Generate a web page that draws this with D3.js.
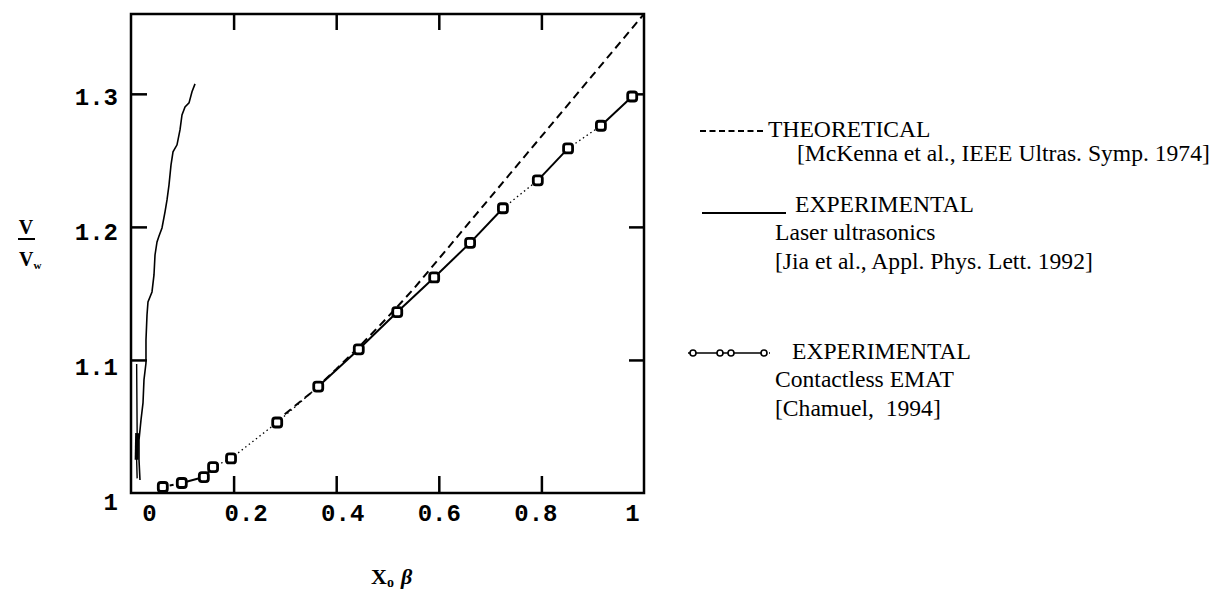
<!DOCTYPE html>
<html>
<head>
<meta charset="utf-8">
<script src="https://cdn.jsdelivr.net/npm/d3@7"></script>
<style>
  body { margin: 0; background: #fff; }
  .tick text { font-family: "Liberation Mono", monospace; font-weight: bold; }
  text { white-space: pre; }
</style>
</head>
<body>
<svg id="chart"></svg>
<script>
// tick values
const xTicks = [0, 0.2, 0.4, 0.6, 0.8, 1];
const yTicks = [1, 1.1, 1.2, 1.3];

// theoretical curve (McKenna 1974)
const theoryX = [0.28, 0.35, 0.40, 0.45, 0.50, 0.55, 0.60, 0.70, 0.80, 0.90, 1.00];
const theoryY = [1.053, 1.075, 1.093, 1.112, 1.132, 1.153, 1.176, 1.222, 1.268, 1.314, 1.36];

// laser ultrasonics trace (Jia 1992)
const laserX = [0.1248, 0.1189, 0.1131, 0.1053, 0.0994, 0.0955, 0.0897, 0.0819, 0.0780, 0.0741,
                0.0702, 0.0663, 0.0604, 0.0546, 0.0507, 0.0468, 0.0448, 0.0409, 0.0331, 0.0312,
                0.0292, 0.0292, 0.0253, 0.0234, 0.0195, 0.0156, 0.0156, 0.0175];
const laserY = [1.3075, 1.3015, 1.2932, 1.2902, 1.2842, 1.2729, 1.2617, 1.2564, 1.2466, 1.2316,
                1.2203, 1.2113, 1.1992, 1.1932, 1.1887, 1.1789, 1.1639, 1.1511, 1.1436, 1.1338,
                1.1150, 1.0977, 1.0850, 1.0677, 1.0549, 1.0398, 1.0248, 1.0098];
// second short branch along the axis
const laserLowX = [0.011, 0.012, 0.011, 0.012];
const laserLowY = [1.097, 1.045, 1.025, 1.011];

// contactless EMAT (Chamuel 1994)
const ematX = [0.062, 0.099, 0.142, 0.160, 0.195, 0.285, 0.365, 0.444, 0.519, 0.591,
               0.661, 0.725, 0.793, 0.852, 0.916, 0.977];
const ematY = [1.0045, 1.0075, 1.012, 1.0195, 1.026, 1.053, 1.080, 1.108, 1.136, 1.162,
               1.188, 1.214, 1.235, 1.259, 1.276, 1.298];

const legendTitles = ["THEORETICAL", "EXPERIMENTAL", "EXPERIMENTAL"];
const legendNotes = [
  ["[McKenna et al., IEEE Ultras. Symp. 1974]"],
  ["Laser ultrasonics", "[Jia et al., Appl. Phys. Lett. 1992]"],
  ["Contactless EMAT", "[Chamuel,  1994]"]
];

var width = 1214, height = 604;

var svg = d3.select("#chart")
  .attr("width", width)
  .attr("height", height);

var x = d3.scaleLinear().domain([0, 1]).range([131, 644]);
var y = d3.scaleLinear().domain([1, 1.36]).range([493, 14]);
// typed labels sit a little off the tick marks
var xLab = d3.scaleLinear().domain([0, 1]).range([149, 632]);
var yLab = d3.scaleLinear().domain([1, 1.3]).range([502, 97]);

// inner tick marks on all four sides
var inner = xTicks.slice(1, -1);
var innerY = yTicks.slice(1);
svg.append("g").attr("transform", "translate(0," + y(1) + ")")
  .call(d3.axisBottom(x).tickValues(inner).tickSize(-17).tickFormat(""))
  .call(g => g.select(".domain").remove());
svg.append("g").attr("transform", "translate(0," + y(1.36) + ")")
  .call(d3.axisTop(x).tickValues(inner).tickSize(-16).tickFormat(""))
  .call(g => g.select(".domain").remove());
svg.append("g").attr("transform", "translate(" + x(0) + ",0)")
  .call(d3.axisLeft(y).tickValues(innerY).tickSize(-16).tickFormat(""))
  .call(g => g.select(".domain").remove());
svg.append("g").attr("transform", "translate(" + x(1) + ",0)")
  .call(d3.axisRight(y).tickValues(innerY).tickSize(-15).tickFormat(""))
  .call(g => g.select(".domain").remove());
svg.selectAll(".tick line").attr("stroke", "#000").attr("stroke-width", 2.5);

// tick labels
svg.append("g").attr("transform", "translate(0,504)")
  .call(d3.axisBottom(xLab).tickValues(xTicks).tickSize(0).tickPadding(0)
    .tickFormat(d => d3.format("")(d)))
  .call(g => g.select(".domain").remove())
  .selectAll("text").attr("font-size", 24).attr("fill", "#000");
svg.append("g").attr("transform", "translate(118,0)")
  .call(d3.axisLeft(yLab).tickValues(yTicks).tickSize(0).tickPadding(0)
    .tickFormat(d => d3.format("")(d)))
  .call(g => g.select(".domain").remove())
  .selectAll("text").attr("font-size", 24).attr("fill", "#000");

// frame
svg.append("rect")
  .attr("x", x(0)).attr("y", y(1.36))
  .attr("width", x(1) - x(0)).attr("height", y(1) - y(1.36))
  .attr("fill", "none").attr("stroke", "#000").attr("stroke-width", 2.5);

var line = d3.line().x(d => x(d[0])).y(d => y(d[1]));

// theoretical
svg.append("path")
  .datum(d3.zip(theoryX, theoryY))
  .attr("d", line)
  .attr("fill", "none").attr("stroke", "#000")
  .attr("stroke-width", 2).attr("stroke-dasharray", "8,5");

// laser ultrasonics
svg.append("path")
  .datum(d3.zip(laserX, laserY))
  .attr("d", line)
  .attr("fill", "none").attr("stroke", "#000").attr("stroke-width", 1.6);
var low = d3.zip(laserLowX, laserLowY);
svg.append("path").datum(low).attr("d", line)
  .attr("fill", "none").attr("stroke", "#000").attr("stroke-width", 1.4);
svg.append("path").datum(low.slice(1, 3)).attr("d", line)
  .attr("fill", "none").attr("stroke", "#000").attr("stroke-width", 4);

// EMAT links: some drawn dotted, as in the original
var ematPts = d3.zip(ematX, ematY);
var dotted = [3, 4, 5, 11, 13];
svg.selectAll(".link")
  .data(d3.pairs(ematPts))
  .enter().append("line")
  .attr("x1", d => x(d[0][0])).attr("y1", d => y(d[0][1]))
  .attr("x2", d => x(d[1][0])).attr("y2", d => y(d[1][1]))
  .attr("stroke", "#000")
  .attr("stroke-width", (d, i) => dotted.includes(i) ? 1.3 : 2)
  .attr("stroke-dasharray", (d, i) => i === 0 ? "4,3" : dotted.includes(i) ? "1.5,3" : null);

svg.selectAll(".pt")
  .data(ematPts)
  .enter().append("rect")
  .attr("x", d => x(d[0]) - 4.5).attr("y", d => y(d[1]) - 4.5)
  .attr("width", 9).attr("height", 9).attr("rx", 2.5)
  .attr("fill", "#fff").attr("stroke", "#000").attr("stroke-width", 2.8);

// axis titles
var vt = svg.append("g").attr("font-family", "Liberation Serif").attr("font-weight", "bold").attr("fill", "#000");
vt.append("text").attr("x", 26).attr("y", 234).attr("text-anchor", "middle").attr("font-size", 20).text("V");
vt.append("line").attr("x1", 18).attr("x2", 35).attr("y1", 239).attr("y2", 239).attr("stroke", "#000").attr("stroke-width", 2);
var den = vt.append("text").attr("x", 19).attr("y", 266).attr("font-size", 20);
den.append("tspan").text("V");
den.append("tspan").attr("font-size", 11).attr("dy", 3).text("w");

var xt = svg.append("text").attr("x", 371).attr("y", 584)
  .attr("font-family", "Liberation Serif").attr("font-weight", "bold").attr("font-size", 22);
xt.append("tspan").text("X");
xt.append("tspan").attr("font-size", 14).attr("dy", 3).text("o");
xt.append("tspan").attr("dy", -3).attr("dx", 7).attr("font-style", "italic").text("\u03b2");

// legend
var lg = svg.append("g").attr("font-family", "Liberation Serif").attr("font-size", 23.6).attr("fill", "#000");
var titleX = [768, 795, 792], titleY = [137, 212, 359];
lg.selectAll(".lt").data(legendTitles).enter().append("text")
  .attr("x", (d, i) => titleX[i]).attr("y", (d, i) => titleY[i]).text(d => d);
legendNotes.forEach(function (notes, i) {
  lg.selectAll(".ln" + i).data(notes).enter().append("text")
    .attr("x", i === 0 ? 797 : 775)
    .attr("y", (d, j) => titleY[i] + 24 + j * 29 + (i === 0 ? 0 : 4))
    .text(d => d);
});
lg.append("line").attr("x1", 700).attr("x2", 764).attr("y1", 131).attr("y2", 131)
  .attr("stroke", "#000").attr("stroke-width", 1.8).attr("stroke-dasharray", "6,3.5");
lg.append("line").attr("x1", 702).attr("x2", 786).attr("y1", 213).attr("y2", 213)
  .attr("stroke", "#000").attr("stroke-width", 1.8);
lg.append("line").attr("x1", 688).attr("x2", 770).attr("y1", 353).attr("y2", 353)
  .attr("stroke", "#000").attr("stroke-width", 1.4).attr("stroke-dasharray", "5,2,30,0");
lg.selectAll(".lm").data([693, 720, 731, 764]).enter().append("circle")
  .attr("cx", d => d).attr("cy", 353).attr("r", 3)
  .attr("fill", "#fff").attr("stroke", "#000").attr("stroke-width", 1.6);
</script>
</body>
</html>
